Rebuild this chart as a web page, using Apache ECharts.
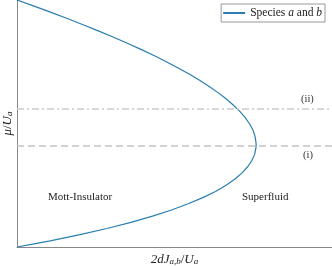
<!DOCTYPE html>
<html><head><meta charset="utf-8">
<script src="https://cdn.jsdelivr.net/npm/echarts@6/dist/echarts.min.js"></script>
<style>html,body{margin:0;padding:0;background:#fff}#c{width:332px;height:266px}</style>
</head><body><div id="c"></div>
<script>
// boundary of the Mott lobe: [2dJ/U, mu/U] pairs
const muValues = [0, 0.0125, 0.025, 0.05, 0.075, 0.1, 0.125, 0.15, 0.175, 0.2, 0.225, 0.25, 0.275, 0.3, 0.325, 0.35, 0.375, 0.4, 0.414, 0.43, 0.45, 0.475, 0.5, 0.525, 0.55, 0.575, 0.6, 0.625, 0.65, 0.675, 0.7, 0.725, 0.75, 0.775, 0.8, 0.825, 0.85, 0.875, 0.9, 0.925, 0.95, 0.975, 1.0];
const jValues  = [0, 0.0122, 0.0238, 0.0452, 0.0645, 0.0818, 0.0972, 0.1109, 0.1228, 0.1333, 0.1424, 0.15, 0.1564, 0.1615, 0.1655, 0.1685, 0.1705, 0.1714, 0.1716, 0.1713, 0.1707, 0.1692, 0.1667, 0.1636, 0.1597, 0.1551, 0.15, 0.1442, 0.1379, 0.1310, 0.1235, 0.1156, 0.1071, 0.0983, 0.0889, 0.0792, 0.0689, 0.0583, 0.0474, 0.0361, 0.0244, 0.0123, 0];
const lineI = 0.414;
const lineII = 0.56;
const xMax = 0.226;
const yMax = 1.0;

const serif = 'Liberation Serif';
const data = muValues.map((m, i) => [jValues[i], m]);
const chart = echarts.init(document.getElementById('c'), null, {renderer: 'canvas'});
chart.setOption({
  animation: false,
  grid: {left: 17, right: 0, top: 0, bottom: 19, containLabel: false, outerBoundsMode: 'none'},
  legend: {
    right: 7, top: 4, itemWidth: 22, itemHeight: 2, itemGap: 0,
    padding: [3, 3, 3, 2],
    borderColor: '#999', borderWidth: 1,
    textStyle: {fontFamily: serif, fontSize: 11.5, color: '#222',
      rich: {t: {fontFamily: serif, fontSize: 11.5, color: '#222'}, i: {fontFamily: serif, fontStyle: 'italic', fontSize: 11.5, color: '#222'}}},
    formatter: () => '{t|Species }{i|a}{t| and }{i|b}',
    icon: 'rect'
  },
  xAxis: {
    type: 'value', min: 0, max: xMax,
    axisLine: {lineStyle: {color: '#888', width: 1}},
    axisTick: {show: false}, axisLabel: {show: false}, splitLine: {show: false},
    name: '{i|2dJ}{s|a,b}{n|/}{i|U}{s|a}', nameLocation: 'middle', nameGap: 4,
    nameTextStyle: {rich: {
      i: {fontFamily: serif, fontStyle: 'italic', fontSize: 13, color: '#222', verticalAlign: 'bottom', lineHeight: 15},
      n: {fontFamily: serif, fontSize: 13, color: '#222', verticalAlign: 'bottom', lineHeight: 15},
      s: {fontFamily: serif, fontStyle: 'italic', fontSize: 9, color: '#222', verticalAlign: 'bottom', lineHeight: 11}
    }}
  },
  yAxis: {
    type: 'value', min: 0, max: yMax,
    axisLine: {show: true, lineStyle: {color: '#888', width: 1}},
    axisTick: {show: false}, axisLabel: {show: false}, splitLine: {show: false},
    name: '{i|μ}{n|/}{i|U}{s|a}', nameLocation: 'middle', nameGap: 3, nameRotate: 90,
    nameTextStyle: {rich: {
      i: {fontFamily: serif, fontStyle: 'italic', fontSize: 13, color: '#222', verticalAlign: 'bottom', lineHeight: 15},
      n: {fontFamily: serif, fontSize: 13, color: '#222', verticalAlign: 'bottom', lineHeight: 15},
      s: {fontFamily: serif, fontStyle: 'italic', fontSize: 9, color: '#222', verticalAlign: 'bottom', lineHeight: 11}
    }}
  },
  series: [{
    name: 'Species a and b', type: 'line', data: data, smooth: false, showSymbol: false,
    lineStyle: {color: '#2a7db0', width: 1.2}, itemStyle: {color: '#2a7db0'},
    markLine: {
      silent: true, symbol: 'none', animation: false,
      label: {show: false},
      data: [
        {yAxis: lineI, lineStyle: {color: '#c4c4c4', type: [7, 4], width: 1.5}},
        {yAxis: lineII, lineStyle: {color: '#cccccc', type: [7, 3, 2, 3], width: 1.5}}
      ]
    }
  }],
  graphic: [
    {type: 'text', left: 301, top: 94, style: {text: '(ii)', font: '10.5px "Liberation Serif"', fill: '#333'}},
    {type: 'text', left: 303, top: 150, style: {text: '(i)', font: '10.5px "Liberation Serif"', fill: '#333'}},
    {type: 'text', left: 48, top: 192, style: {text: 'Mott-Insulator', font: '11px "Liberation Serif"', fill: '#222'}},
    {type: 'text', left: 242, top: 192, style: {text: 'Superfluid', font: '11px "Liberation Serif"', fill: '#222'}}
  ]
});
</script></body></html>
